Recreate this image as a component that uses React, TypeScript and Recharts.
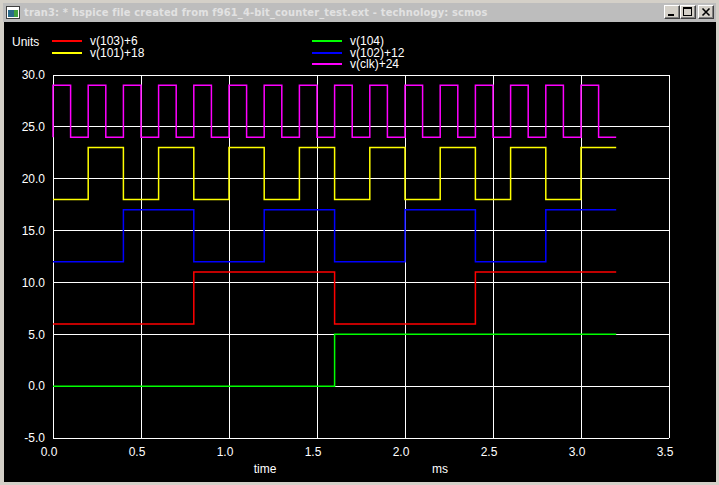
import { LineChart, Line, XAxis, YAxis, CartesianGrid } from 'recharts'

// axis ticks (ms / Units)
const xTicks = [0, 0.5, 1, 1.5, 2, 2.5, 3, 3.5]
const yTicks = [-5, 0, 5, 10, 15, 20, 25, 30]

// transition times (ms) and levels, offsets already added
const clkTimes = [0, 0, 0.1, 0.2, 0.3, 0.4, 0.5, 0.6, 0.7, 0.8, 0.9, 1.0, 1.1, 1.2, 1.3, 1.4, 1.5, 1.6, 1.7, 1.8, 1.9, 2.0, 2.1, 2.2, 2.3, 2.4, 2.5, 2.6, 2.7, 2.8, 2.9, 3.0, 3.1, 3.2]
const clkValues = [24, 29, 24, 29, 24, 29, 24, 29, 24, 29, 24, 29, 24, 29, 24, 29, 24, 29, 24, 29, 24, 29, 24, 29, 24, 29, 24, 29, 24, 29, 24, 29, 24, 24]

const v101Times = [0, 0.2, 0.4, 0.6, 0.8, 1.0, 1.2, 1.4, 1.6, 1.8, 2.0, 2.2, 2.4, 2.6, 2.8, 3.0, 3.2]
const v101Values = [18, 23, 18, 23, 18, 23, 18, 23, 18, 23, 18, 23, 18, 23, 18, 23, 23]

const v102Times = [0, 0.4, 0.8, 1.2, 1.6, 2.0, 2.4, 2.8, 3.2]
const v102Values = [12, 17, 12, 17, 12, 17, 12, 17, 17]

const v103Times = [0, 0.8, 1.6, 2.4, 3.2]
const v103Values = [6, 11, 6, 11, 11]

const v104Times = [0, 1.6, 3.2]
const v104Values = [0, 5, 5]

function toPoints(times: number[], values: number[]) {
  return times.map((t, i) => ({ t, v: values[i] }))
}

const series = [
  { name: 'v(103)+6', color: '#ff0000', data: toPoints(v103Times, v103Values) },
  { name: 'v(101)+18', color: '#ffff00', data: toPoints(v101Times, v101Values) },
  { name: 'v(104)', color: '#00ff00', data: toPoints(v104Times, v104Values) },
  { name: 'v(102)+12', color: '#0000ff', data: toPoints(v102Times, v102Values) },
  { name: 'v(clk)+24', color: '#ff00ff', data: toPoints(clkTimes, clkValues) },
]

const FONT = '"Liberation Sans", Arial, sans-serif'

// legend slots: left column then right column (swatch y, text y)
const legendPos = [
  { x: 52, y: 41, ty: 42 },
  { x: 52, y: 53, ty: 54 },
  { x: 312, y: 41, ty: 42 },
  { x: 312, y: 53, ty: 54 },
  { x: 312, y: 64, ty: 65 },
]

function TitleButton({ left, children }: { left: number; children: React.ReactNode }) {
  return (
    <div
      style={{
        position: 'absolute', left, top: 5, width: 16, height: 14, boxSizing: 'border-box',
        background: '#d4d0c8',
        borderTop: '1px solid #ffffff', borderLeft: '1px solid #ffffff',
        borderRight: '1px solid #404040', borderBottom: '1px solid #404040',
        boxShadow: 'inset -1px -1px 0 #808080',
      }}
    >
      <svg width={14} height={12} style={{ position: 'absolute', left: 0, top: 0 }}>{children}</svg>
    </div>
  )
}

export default function App() {
  return (
    <div style={{ position: 'absolute', left: 0, top: 0, width: 719, height: 485, background: '#d4d0c8', fontFamily: FONT, overflow: 'hidden' }}>
      {/* title bar */}
      <div style={{ position: 'absolute', left: 3, top: 3, width: 713, height: 19, background: '#bdbdbd' }} />
      <div style={{ position: 'absolute', left: 6, top: 6, width: 14, height: 13, background: '#ffffff', border: '1px solid #404040', boxSizing: 'border-box' }}>
        <div style={{ position: 'absolute', left: 1, top: 3, width: 6, height: 7, background: '#2a6a8a' }} />
        <div style={{ position: 'absolute', left: 7, top: 3, width: 4, height: 7, background: '#40a040' }} />
      </div>
      <div style={{ position: 'absolute', left: 24, top: 5, fontSize: 11, fontWeight: 'bold', letterSpacing: 0.16, fontFamily: '"DejaVu Sans Condensed", "DejaVu Sans", sans-serif', color: '#e2e2e2', whiteSpace: 'nowrap', lineHeight: '16px' }}>
        tran3: * hspice file created from f961_4-bit_counter_test.ext - technology: scmos
      </div>
      <TitleButton left={664}>
        <rect x={3} y={8} width={6} height={2} fill="#000" />
      </TitleButton>
      <TitleButton left={680}>
        <rect x={2.5} y={1.5} width={8} height={8} fill="none" stroke="#000" />
        <rect x={2} y={1} width={9} height={2} fill="#000" />
      </TitleButton>
      <TitleButton left={698}>
        <path d="M3.5 2.5 L10.5 9.5 M10.5 2.5 L3.5 9.5" stroke="#000" strokeWidth={1.6} />
      </TitleButton>

      {/* client area */}
      <div style={{ position: 'absolute', left: 4, top: 22, width: 712, height: 460, background: '#000000' }}>
        <LineChart width={712} height={460} margin={{ top: 53, right: 47, bottom: 0, left: 0 }}>
          <CartesianGrid stroke="#ffffff" strokeWidth={1} shapeRendering="crispEdges" />
          <XAxis
            type="number"
            dataKey="t"
            domain={[0, 3.5]}
            ticks={xTicks}
            allowDuplicatedCategory={false}
            tickFormatter={(v: number) => v.toFixed(1)}
            tick={{ fill: '#ffffff', fontSize: 12, fontFamily: FONT, dx: -4 }}
            axisLine={false}
            tickLine={false}
            tickMargin={3}
            height={44}
          />
          <YAxis
            type="number"
            domain={[-5, 30]}
            ticks={yTicks}
            tickFormatter={(v: number) => v.toFixed(1)}
            tick={{ fill: '#ffffff', fontSize: 12, fontFamily: FONT }}
            axisLine={false}
            tickLine={false}
            width={49}
          />
          {series.map((s) => (
            <Line
              key={s.name}
              data={s.data}
              dataKey="v"
              name={s.name}
              type="stepAfter"
              stroke={s.color}
              strokeWidth={1.5}
              dot={false}
              activeDot={false}
              isAnimationActive={false}
            />
          ))}
        </LineChart>
      </div>

      {/* legend */}
      <div style={{ position: 'absolute', left: 12, top: 37, fontSize: 12, color: '#ffffff', lineHeight: '11px' }}>Units</div>
      {series.map((s, i) => (
        <div key={s.name}>
          <div style={{ position: 'absolute', left: legendPos[i].x, top: legendPos[i].y - 1, width: 30, height: 2, background: s.color }} />
          <div style={{ position: 'absolute', left: legendPos[i].x + 38, top: legendPos[i].ty - 6, fontSize: 12, color: '#ffffff', lineHeight: '11px', whiteSpace: 'nowrap' }}>
            {s.name}
          </div>
        </div>
      ))}

      {/* axis captions */}
      <div style={{ position: 'absolute', left: 245, top: 462, width: 40, textAlign: 'center', fontSize: 12, color: '#ffffff', lineHeight: '14px' }}>time</div>
      <div style={{ position: 'absolute', left: 420, top: 462, width: 40, textAlign: 'center', fontSize: 12, color: '#ffffff', lineHeight: '14px' }}>ms</div>
    </div>
  )
}
